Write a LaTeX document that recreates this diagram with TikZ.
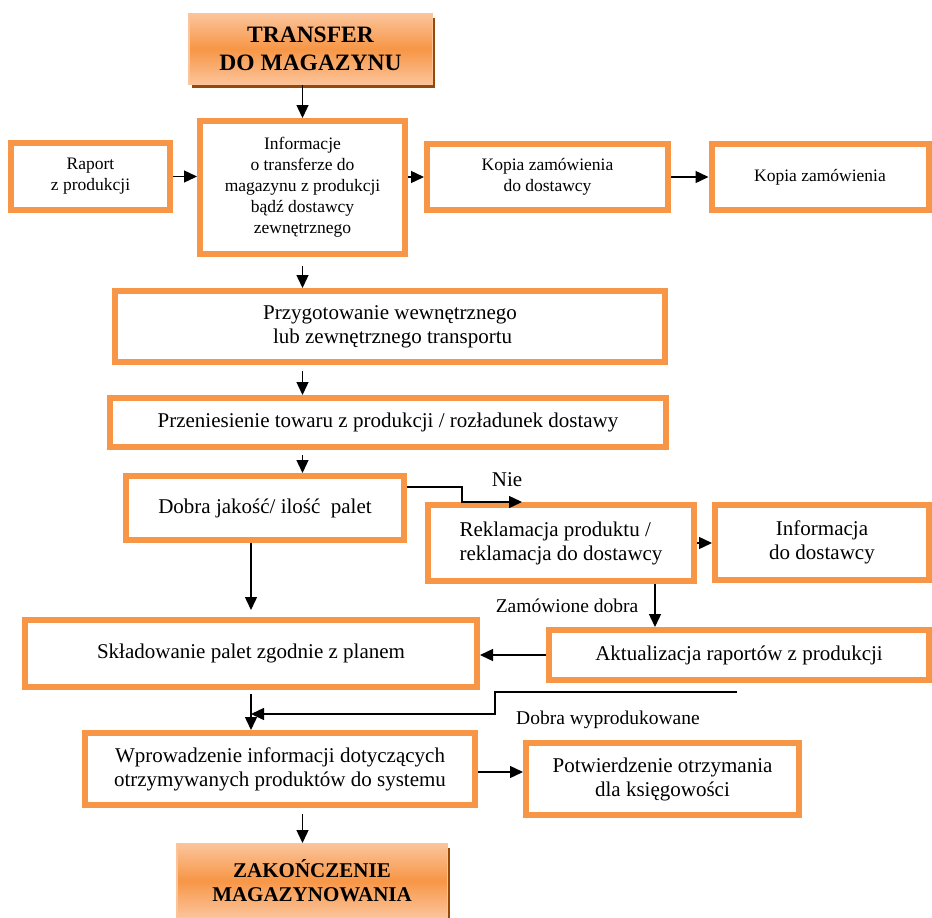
\documentclass[tikz,border=0pt]{standalone}
\usepackage{fontspec}
\setmainfont{Liberation Serif}
\usetikzlibrary{arrows.meta,shadows,calc}
\definecolor{orbord}{HTML}{F79646}
\definecolor{orlight}{HTML}{FBC49A}
\definecolor{shadbr}{HTML}{984807}
\begin{document}
\begin{tikzpicture}[x=1pt,y=-1pt,
  box/.style={draw=orbord,line width=6pt,fill=white,align=center,inner sep=2pt,font=\fontsize{21}{24}\selectfont},
  smallbox/.style={box,font=\fontsize{17.5}{21}\selectfont},
  title/.style={draw=orlight,line width=1.5pt,top color=orlight,bottom color=orlight,middle color=orbord,align=center,
    font=\bfseries\fontsize{23.5}{28}\selectfont,drop shadow={shadow xshift=3pt,shadow yshift=-4pt,fill=shadbr,opacity=1}},
  lbl/.style={font=\fontsize{19.5}{22}\selectfont,inner sep=0pt},
  arr/.style={-{Triangle[length=13pt,width=12pt]},line width=1.4pt}]
  \useasboundingbox (0,0) rectangle (932,918);
  \node[title,minimum width=243.5pt,minimum height=70.5pt] (trans) at (310.5,49) {TRANSFER\\DO MAGAZYNU};
  \node[smallbox,minimum width=159pt,minimum height=67pt] (raport) at (90.5,176.5) {Raport\\z produkcji};
  \node[smallbox,minimum width=205pt,minimum height=133pt] (info) at (302.5,187.5) {Informacje\\o transferze do\\magazynu z produkcji\\bądź dostawcy\\zewnętrznego};
  \node[smallbox,minimum width=241pt,minimum height=66pt] (kopiad) at (547.5,177) {Kopia zamówienia\\do dostawcy};
  \node[smallbox,minimum width=217pt,minimum height=66pt] (kopia) at (820,177) {Kopia zamówienia};
  \node[box,minimum width=550pt,minimum height=71pt] (przyg) at (390,326.5) {Przygotowanie wewnętrznego\\\ lub zewnętrznego transportu};
  \node[box,minimum width=556pt,minimum height=49pt] (przen) at (388,422.5) {Przeniesienie towaru z produkcji / rozładunek dostawy};
  \node[box,minimum width=278pt,minimum height=64pt] (dobra) at (265,508) {Dobra jakość/ ilość\ \ palet};
  \node[box,align=left,minimum width=266pt,minimum height=76pt] (rekl) at (561,543) {Reklamacja produktu /\\reklamacja do dostawcy};
  \node[box,minimum width=214pt,minimum height=75pt] (infod) at (822,542.5) {Informacja\\do dostawcy};
  \node[box,minimum width=452pt,minimum height=67pt] (sklad) at (251,653.5) {Składowanie palet zgodnie z planem};
  \node[box,minimum width=380pt,minimum height=50pt] (aktual) at (739,655) {Aktualizacja raportów z produkcji};
  \node[box,minimum width=390pt,minimum height=72pt] (wprow) at (280,769) {Wprowadzenie informacji dotyczących\\otrzymywanych produktów do systemu};
  \node[box,minimum width=273pt,minimum height=72pt] (potw) at (662.5,779) {Potwierdzenie otrzymania\\dla księgowości};
  \node[title,font=\bfseries\fontsize{21}{24}\selectfont,minimum width=270.5pt,minimum height=73.5pt] (zakon) at (312,880.5) {ZAKOŃCZENIE\\MAGAZYNOWANIA};

  \draw[arr] (trans.south -| info.north) -- (info.north);
  \draw[arr] (raport.east) -- (raport.east -| info.west);
  \draw[arr] (kopiad.west -| info.east) -- (kopiad.west);
  \draw[arr] (kopiad.east) -- (kopia.west);
  \draw[arr,shorten <=9pt] (info.south) -- (info.south |- przyg.north);
  \draw[arr,shorten <=6pt] (przyg.south -| info.south) -- (przen.north -| info.south);
  \draw[arr,shorten <=5pt] (przen.south -| info.south) -- (dobra.north -| info.south);
  \draw[arr] ($(dobra.east)+(0,-21)$) -| ($(rekl.north west)+(37,0)$) -- ($(rekl.north west)+(97,0)$);
  \node[lbl,font=\fontsize{21}{24}\selectfont] (nie) at (507,480) {Nie};
  \draw[arr,shorten >=7pt] (dobra.south -| sklad.south) -- (sklad.north);
  \draw[arr] (rekl.east) -- (rekl.east -| infod.west);
  \draw[arr] ([xshift=-42pt]rekl.south east) -- ([xshift=-42pt]rekl.south east |- aktual.north);
  \node[lbl] (zam) at (567,606) {Zamówione dobra};
  \draw[arr] (aktual.west) -- (aktual.west -| sklad.east);
  \draw[arr,shorten <=4pt] (sklad.south) -- (sklad.south |- wprow.north);
  \coordinate (dw) at (737,692);
  \coordinate (dwk) at (495,714);
  \draw[arr] (dw) -| (dwk) -- (dwk -| sklad.south);
  \node[lbl] (dwl) at (608,720) {Dobra wyprodukowane};
  \draw[arr] ([yshift=-3pt]wprow.east) -- ([yshift=-3pt]wprow.east -| potw.west);
  \draw[arr,shorten <=6pt] (wprow.south -| info.south) -- (zakon.north -| info.south);
\end{tikzpicture}
\end{document}
